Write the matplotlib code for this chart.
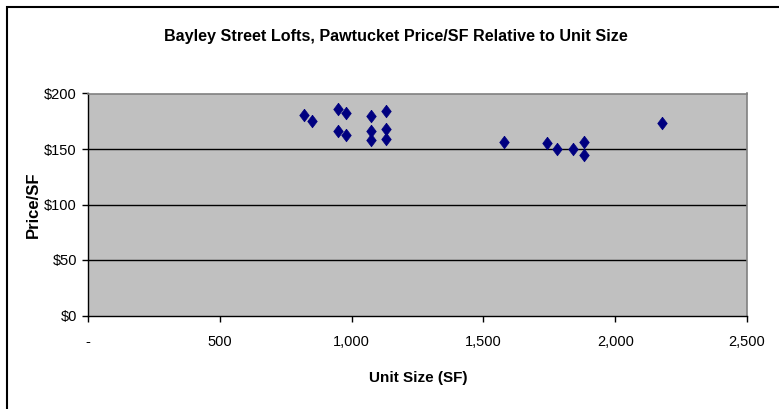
import matplotlib
matplotlib.use("Agg")
import matplotlib.pyplot as plt
from matplotlib.ticker import FuncFormatter, MultipleLocator
import matplotlib.patches as mpatches

unit_size = [820, 849, 950, 980, 950, 980, 1073, 1129, 1073, 1073, 1129, 1129,
             1579, 1740, 1778, 1839, 1882, 1882, 2179]
price_sf = [181, 175, 186, 182, 166, 163, 180, 184, 166, 158, 168, 159,
            156, 155, 150, 150, 156, 145, 173]

title = "Bayley Street Lofts, Pawtucket Price/SF Relative to Unit Size"
xlabel = "Unit Size (SF)"
ylabel = "Price/SF"

narrow = ['Liberation Sans Narrow', 'Liberation Sans', 'DejaVu Sans']
wide = ['Liberation Sans', 'DejaVu Sans']

fig = plt.figure(figsize=(7.79, 4.09), dpi=100)
fig.patch.set_facecolor('white')

# outer chart border (cropped at right/bottom in the reference)
fig.add_artist(mpatches.Rectangle((6.5/779, -0.05), 1.2, (409-6.5)/409 + 0.05,
                                  transform=fig.transFigure, fill=False,
                                  edgecolor='black', linewidth=1.5))

ax = fig.add_axes([88/779, (409-315.5)/409, (747-88)/779, (315.5-93.5)/409])
ax.set_facecolor('#C0C0C0')
ax.set_xlim(0, 2500)
ax.set_ylim(0, 200)

ax.xaxis.set_major_locator(MultipleLocator(500))
ax.yaxis.set_major_locator(MultipleLocator(50))
ax.xaxis.set_major_formatter(FuncFormatter(lambda v, p: '-' if v == 0 else f"{int(v):,}"))
ax.yaxis.set_major_formatter(FuncFormatter(lambda v, p: f"${int(v)}"))

for yv in [50, 100, 150]:
    ax.axhline(yv, color='black', linewidth=1.0, zorder=1)

diamond = [(0, 1), (0.76, 0), (0, -1), (-0.76, 0), (0, 1)]
ax.scatter(unit_size, price_sf, marker=diamond, s=82, color='#000080',
           edgecolors='#000080', linewidths=0.5, zorder=3)

for side in ['top', 'right']:
    ax.spines[side].set_color('#808080')
    ax.spines[side].set_linewidth(1.2)
for side in ['left', 'bottom']:
    ax.spines[side].set_color('black')
    ax.spines[side].set_linewidth(1.0)

ax.tick_params(axis='both', direction='out', length=4, width=1, color='black',
               labelsize=10.5, pad=4)
ax.tick_params(axis='x', pad=10)
for lab in ax.get_xticklabels() + ax.get_yticklabels():
    lab.set_family(narrow)

fig.text(396/779, 1 - 36/409, title, ha='center', va='center', fontsize=11.6,
         fontweight='bold', family=narrow)
fig.text(418/779, 1 - 378/409, xlabel, ha='center', va='center', fontsize=11,
         fontweight='bold', family=narrow)
fig.text(33/779, 1 - 205/409, ylabel, ha='center', va='center', fontsize=12,
         fontweight='bold', family=wide, rotation=90)

fig.savefig('out.png', dpi=100)
